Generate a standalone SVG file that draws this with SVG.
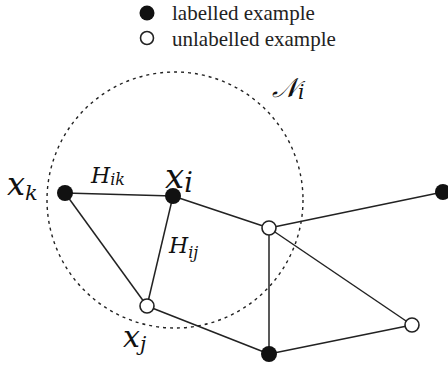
<svg xmlns="http://www.w3.org/2000/svg" width="448" height="367" viewBox="0 0 448 367">
<style>
.edge{stroke:#222;stroke-width:1.5;fill:none}
.lab{fill:#111}
.unl{fill:#fff;stroke:#222;stroke-width:1.6}
.hood{fill:none;stroke:#222;stroke-width:1.4;stroke-dasharray:3 4}
</style>
<rect width="448" height="367" fill="#fff"/>
<g id="legend" font-family="'Liberation Serif', 'Times New Roman', serif" font-size="21" fill="#222">
<circle cx="147" cy="13" r="7.5" class="lab"/>
<text x="172" y="20">labelled example</text>
<circle cx="147" cy="38" r="6.5" class="unl"/>
<text x="172" y="46">unlabelled example</text>
</g>
<g id="neighbourhood">
<circle cx="175" cy="200" r="128" class="hood"/>
<text x="272" y="97" font-family="'DejaVu Serif', serif" font-style="italic" fill="#111" font-size="27">𝒩<tspan font-size="20" dy="2">i</tspan></text>
</g>
<g id="connectors">
<line x1="65" y1="193" x2="173" y2="196" class="edge"/>
<line x1="65" y1="193" x2="147" y2="306" class="edge"/>
<line x1="173" y1="196" x2="147" y2="306" class="edge"/>
<line x1="173" y1="196" x2="269" y2="228" class="edge"/>
<line x1="269" y1="228" x2="443" y2="192" class="edge"/>
<line x1="269" y1="228" x2="269" y2="354" class="edge"/>
<line x1="269" y1="228" x2="412" y2="325" class="edge"/>
<line x1="147" y1="306" x2="269" y2="354" class="edge"/>
<line x1="269" y1="354" x2="412" y2="325" class="edge"/>
<g font-family="'DejaVu Serif', serif" font-style="italic" fill="#111">
<text x="91" y="183" font-size="22">H<tspan font-size="16" dy="2">ik</tspan></text>
<text x="169" y="253" font-size="22">H<tspan font-size="16" dy="5">ij</tspan></text>
</g>
</g>
<g id="xk" font-family="'DejaVu Serif', serif" font-style="italic" fill="#111">
<circle cx="65" cy="193" r="8" class="lab"/>
<text x="7" y="195" font-size="32">x<tspan font-size="21" dy="5">k</tspan></text>
</g>
<g id="xi" font-family="'DejaVu Serif', serif" font-style="italic" fill="#111">
<circle cx="173" cy="196" r="8" class="lab"/>
<text x="165" y="188" font-size="34">x<tspan font-size="27" dy="4">i</tspan></text>
</g>
<g id="xj" font-family="'DejaVu Serif', serif" font-style="italic" fill="#111">
<circle cx="147" cy="306" r="7" class="unl"/>
<text x="123" y="347" font-size="30">x<tspan font-size="20" dy="4">j</tspan></text>
</g>
<g id="n_mid"><circle cx="269" cy="228" r="7" class="unl"/></g>
<g id="n_right_top"><circle cx="443" cy="192" r="8" class="lab"/></g>
<g id="n_bottom"><circle cx="269" cy="354" r="8" class="lab"/></g>
<g id="n_right"><circle cx="412" cy="325" r="7" class="unl"/></g>
</svg>
